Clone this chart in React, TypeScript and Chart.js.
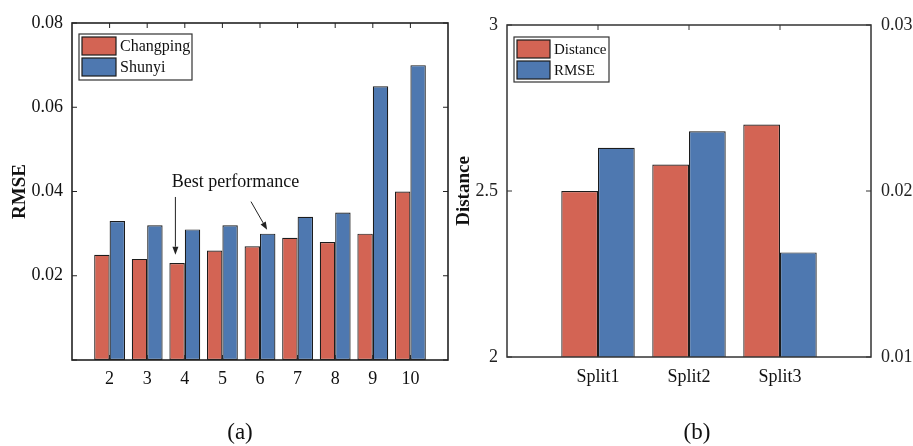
import React, { useEffect, useRef } from 'react';
import { Chart, registerables } from 'chart.js';

Chart.register(...registerables);

// ---------- data: panel (a) ----------
const windowCategories = ['', '2', '3', '4', '5', '6', '7', '8', '9', '10', ''];
const changpingRMSE = [null, 0.025, 0.024, 0.023, 0.026, 0.027, 0.029, 0.028, 0.030, 0.040, null];
const shunyiRMSE = [null, 0.033, 0.032, 0.031, 0.032, 0.030, 0.034, 0.035, 0.065, 0.070, null];
const rmseAxisRange = [0, 0.08];
const rmseAxisStep = 0.02;

// annotation (data coordinates: category index, RMSE value)
const annotationText = 'Best performance';
const annotationAt = [4.35, 0.0423];
const annotationArrows = [
  [[2.75, 0.0387], [2.75, 0.0250]],
  [[4.76, 0.0376], [5.19, 0.0309]],
];

// ---------- data: panel (b) ----------
const splitCategories = ['', 'Split1', 'Split2', 'Split3', ''];
const splitDistance = [null, 2.5, 2.58, 2.70, null];
const splitRMSE = [null, 0.0226, 0.0236, 0.0163, null];
const distanceAxisRange = [2, 3];
const distanceAxisStep = 0.5;
const splitRmseAxisRange = [0.01, 0.03];
const splitRmseAxisStep = 0.01;

const RED = '#D36454';
const BLUE = '#4E78B0';
const EDGE = '#1c1c1c';
const TEXT = '#111';
const FONT = '"Liberation Serif", "Times New Roman", serif';

const boxPlugin = {
  id: 'matlabBox',
  beforeDatasetsDraw(chart: any, _a: any, opts: any) {
    const { ctx, chartArea: a } = chart;
    const L = opts.tickLen ?? 5;
    ctx.save();
    ctx.strokeStyle = opts.color;
    ctx.lineWidth = 1;
    const line = (x1: number, y1: number, x2: number, y2: number) => {
      ctx.beginPath();
      ctx.moveTo(x1, y1);
      ctx.lineTo(x2, y2);
      ctx.stroke();
    };
    const xs = chart.scales.x;
    xs.ticks.forEach((t: any, i: number) => {
      if (!xs.getLabelForValue(t.value)) return;
      const px = xs.getPixelForTick(i);
      line(px, a.top, px, a.top + L);
      line(px, a.bottom, px, a.bottom - L);
    });
    const ys = chart.scales.y;
    const y1 = chart.scales.y1;
    ys.ticks.forEach((_t: any, i: number) => {
      const py = ys.getPixelForTick(i);
      line(a.left, py, a.left + L, py);
      if (!y1) line(a.right, py, a.right - L, py);
    });
    if (y1) {
      y1.ticks.forEach((_t: any, i: number) => {
        const py = y1.getPixelForTick(i);
        line(a.right, py, a.right - L, py);
      });
    }
    ctx.restore();
  },
  afterDatasetsDraw(chart: any, _a: any, opts: any) {
    const { ctx, chartArea: a } = chart;
    ctx.save();
    ctx.strokeStyle = opts.color;
    ctx.lineWidth = opts.lineWidth ?? 1.5;
    ctx.strokeRect(a.left, a.top, a.right - a.left, a.bottom - a.top);
    ctx.restore();
  },
};

const boxLegendPlugin = {
  id: 'boxLegend',
  afterDraw(chart: any, _a: any, opts: any) {
    const { ctx, chartArea: a } = chart;
    const x = a.left + opts.dx;
    const y = a.top + opts.dy;
    ctx.save();
    ctx.fillStyle = '#fff';
    ctx.fillRect(x, y, opts.w, opts.h);
    ctx.strokeStyle = '#333';
    ctx.lineWidth = 1.2;
    ctx.strokeRect(x, y, opts.w, opts.h);
    chart.data.datasets.forEach((ds: any, i: number) => {
      const sy = y + 3 + i * (opts.sh + 3);
      ctx.fillStyle = ds.backgroundColor;
      ctx.fillRect(x + 3, sy, opts.sw, opts.sh);
      ctx.strokeStyle = EDGE;
      ctx.lineWidth = 1.2;
      ctx.strokeRect(x + 3, sy, opts.sw, opts.sh);
      ctx.fillStyle = TEXT;
      ctx.font = `${opts.fontSize}px ${FONT}`;
      ctx.textBaseline = 'middle';
      ctx.textAlign = 'left';
      ctx.fillText(ds.label, x + opts.sw + 7, sy + opts.sh / 2 + 1);
    });
    ctx.restore();
  },
};

const panelLabelPlugin = {
  id: 'panelLabel',
  afterDraw(chart: any, _a: any, opts: any) {
    const { ctx } = chart;
    ctx.save();
    ctx.fillStyle = TEXT;
    ctx.font = `${opts.size}px ${FONT}`;
    ctx.textAlign = 'center';
    ctx.textBaseline = 'middle';
    ctx.fillText(opts.text, opts.x, opts.y);
    ctx.restore();
  },
};

const annotationPlugin = {
  id: 'bestAnnotation',
  afterDatasetsDraw(chart: any) {
    const { ctx } = chart;
    const xs = chart.scales.x;
    const ys = chart.scales.y;
    ctx.save();
    ctx.fillStyle = TEXT;
    ctx.font = `18px ${FONT}`;
    ctx.textAlign = 'center';
    ctx.textBaseline = 'middle';
    ctx.fillText(annotationText, xs.getPixelForValue(annotationAt[0]), ys.getPixelForValue(annotationAt[1]));
    ctx.strokeStyle = '#222';
    ctx.lineWidth = 1;
    annotationArrows.forEach(([from, to]) => {
      const x1 = xs.getPixelForValue(from[0]);
      const y1 = ys.getPixelForValue(from[1]);
      const x2 = xs.getPixelForValue(to[0]);
      const y2 = ys.getPixelForValue(to[1]);
      const ang = Math.atan2(y2 - y1, x2 - x1);
      const hl = 8;
      const hw = 3;
      const bx = x2 - hl * Math.cos(ang);
      const by = y2 - hl * Math.sin(ang);
      ctx.beginPath();
      ctx.moveTo(x1, y1);
      ctx.lineTo(bx, by);
      ctx.stroke();
      ctx.beginPath();
      ctx.moveTo(x2, y2);
      ctx.lineTo(bx + hw * Math.sin(ang), by - hw * Math.cos(ang));
      ctx.lineTo(bx - hw * Math.sin(ang), by + hw * Math.cos(ang));
      ctx.closePath();
      ctx.fillStyle = '#222';
      ctx.fill();
    });
    ctx.restore();
  },
};

const tickFont = { family: FONT, size: 18 };
const titleFont = { family: FONT, size: 19, weight: 'bold' as const };
const barStyle = { borderColor: EDGE, borderWidth: 1.2, borderSkipped: false as const };

function LeftChart() {
  const ref = useRef<HTMLCanvasElement>(null);
  useEffect(() => {
    const chart = new Chart(ref.current!, {
      type: 'bar',
      data: {
        labels: windowCategories,
        datasets: [
          { label: 'Changping', data: changpingRMSE, backgroundColor: RED, ...barStyle },
          { label: 'Shunyi', data: shunyiRMSE, backgroundColor: BLUE, ...barStyle },
        ],
      },
      options: {
        responsive: false,
        animation: false,
        events: [],
        layout: { padding: { top: 23, right: 6, left: 0, bottom: 0 } },
        datasets: { bar: { categoryPercentage: 0.82, barPercentage: 1 } },
        plugins: {
          legend: { display: false },
          tooltip: { enabled: false },
          matlabBox: { color: '#222', lineWidth: 1.6, tickLen: 5 },
          boxLegend: { dx: 7, dy: 11, w: 113, h: 46, sw: 34, sh: 18, fontSize: 16 },
          panelLabel: { text: '(a)', x: 240, y: 433, size: 23 },
        } as any,
        scales: {
          x: {
            type: 'category',
            offset: false,
            grid: { display: false, drawTicks: false },
            border: { display: false },
            ticks: { autoSkip: false, maxRotation: 0, padding: 8, color: TEXT, font: tickFont },
            afterFit: (s: any) => { s.height = 86; },
          },
          y: {
            min: rmseAxisRange[0],
            max: rmseAxisRange[1],
            grid: { display: false, drawTicks: false },
            border: { display: false },
            ticks: {
              stepSize: rmseAxisStep,
              padding: 9,
              color: TEXT,
              font: tickFont,
              callback: (v: any) => (Math.abs(v) < 1e-9 ? '' : Number(v).toFixed(2)),
            },
            title: { display: true, text: 'RMSE', color: TEXT, font: titleFont, padding: { top: 9, bottom: 0 } },
            afterFit: (s: any) => { s.width = 72; },
          },
        },
      },
      plugins: [boxPlugin, boxLegendPlugin, panelLabelPlugin, annotationPlugin],
    });
    return () => chart.destroy();
  }, []);
  return <canvas ref={ref} width={456} height={446} style={{ position: 'absolute', left: 0, top: 0 }} />;
}

function RightChart() {
  const ref = useRef<HTMLCanvasElement>(null);
  useEffect(() => {
    const chart = new Chart(ref.current!, {
      type: 'bar',
      data: {
        labels: splitCategories,
        datasets: [
          { label: 'Distance', data: splitDistance, yAxisID: 'y', backgroundColor: RED, ...barStyle },
          { label: 'RMSE', data: splitRMSE, yAxisID: 'y1', backgroundColor: BLUE, ...barStyle },
        ],
      },
      options: {
        responsive: false,
        animation: false,
        events: [],
        layout: { padding: { top: 25, right: 0, left: 0, bottom: 0 } },
        datasets: { bar: { categoryPercentage: 0.807, barPercentage: 1 } },
        plugins: {
          legend: { display: false },
          tooltip: { enabled: false },
          matlabBox: { color: '#333', lineWidth: 1.5, tickLen: 5 },
          boxLegend: { dx: 7, dy: 12, w: 95, h: 45, sw: 33, sh: 18, fontSize: 15 },
          panelLabel: { text: '(b)', x: 244, y: 433, size: 23 },
        } as any,
        scales: {
          x: {
            type: 'category',
            offset: false,
            grid: { display: false, drawTicks: false },
            border: { display: false },
            ticks: { autoSkip: false, maxRotation: 0, padding: 9, color: TEXT, font: tickFont },
            afterFit: (s: any) => { s.height = 89; },
          },
          y: {
            position: 'left',
            min: distanceAxisRange[0],
            max: distanceAxisRange[1],
            grid: { display: false, drawTicks: false },
            border: { display: false },
            ticks: {
              stepSize: distanceAxisStep,
              padding: 9,
              color: '#222',
              font: tickFont,
              callback: (v: any) => String(Number(v)),
            },
            title: { display: true, text: 'Distance', color: TEXT, font: titleFont, padding: { top: 0, bottom: 0 } },
            afterFit: (s: any) => { s.width = 54; },
          },
          y1: {
            position: 'right',
            min: splitRmseAxisRange[0],
            max: splitRmseAxisRange[1],
            grid: { display: false, drawTicks: false },
            border: { display: false },
            ticks: {
              stepSize: splitRmseAxisStep,
              padding: 10,
              color: '#222',
              font: tickFont,
              callback: (v: any) => Number(v).toFixed(2),
            },
            afterFit: (s: any) => { s.width = 42; },
          },
        },
      },
      plugins: [boxPlugin, boxLegendPlugin, panelLabelPlugin],
    });
    return () => chart.destroy();
  }, []);
  return <canvas ref={ref} width={460} height={446} style={{ position: 'absolute', left: 453, top: 0 }} />;
}

export default function App() {
  return (
    <div style={{ position: 'absolute', left: 0, top: 0, width: 913, height: 446, background: '#fff', overflow: 'hidden' }}>
      <LeftChart />
      <RightChart />
    </div>
  );
}
